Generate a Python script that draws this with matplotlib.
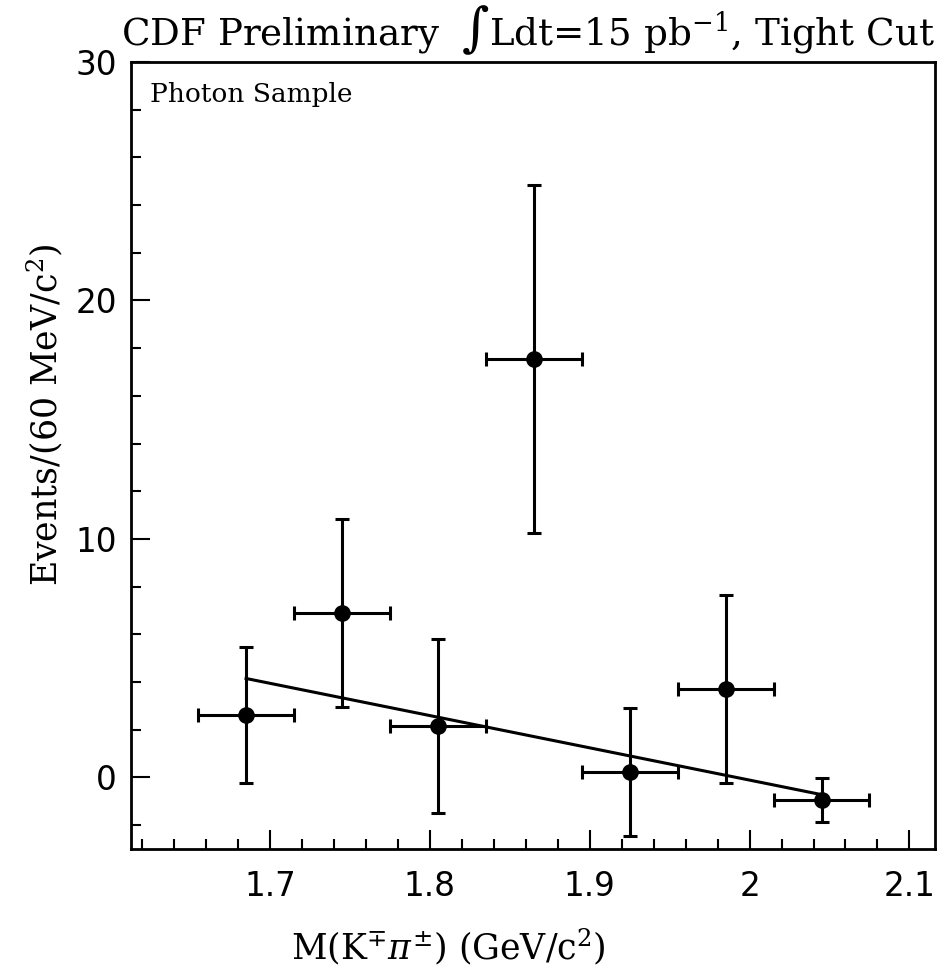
import matplotlib
matplotlib.use("Agg")
import matplotlib.pyplot as plt
from matplotlib.ticker import MultipleLocator

# Data
mass = [1.685, 1.745, 1.805, 1.865, 1.925, 1.985, 2.045]
events = [2.62, 6.90, 2.16, 17.55, 0.23, 3.71, -0.94]
err_y = [2.85, 3.94, 3.63, 7.30, 2.70, 3.95, 0.92]
bin_half = [0.03, 0.03, 0.03, 0.03, 0.03, 0.03, 0.03]
fit_x = [1.685, 2.045]
fit_y = [4.15, -0.72]

x_ticks = [1.7, 1.8, 1.9, 2.0, 2.1]
x_tick_labels = ["1.7", "1.8", "1.9", "2", "2.1"]
y_ticks = [0, 10, 20, 30]
y_tick_labels = ["0", "10", "20", "30"]

plt.rcParams['mathtext.fontset'] = 'dejavuserif'

W, H = 946, 974
fig = plt.figure(figsize=(W / 100, H / 100), dpi=100)
ax = fig.add_axes([131 / W, 1 - 849 / H, (935 - 131) / W, (849 - 62) / H])

ax.errorbar(mass, events, yerr=err_y, xerr=bin_half, fmt='o', color='black',
            markersize=11, elinewidth=2.2, capsize=5, capthick=2.2, zorder=3)
ax.plot(fit_x, fit_y, color='black', linewidth=2.2, zorder=2)

ax.set_xlim(1.613, 2.116)
ax.set_ylim(-3, 30)
ax.set_xticks(x_ticks)
ax.set_xticklabels(x_tick_labels)
ax.set_yticks(y_ticks)
ax.set_yticklabels(y_tick_labels)
ax.xaxis.set_minor_locator(MultipleLocator(0.02))
ax.yaxis.set_minor_locator(MultipleLocator(2))
ax.tick_params(which='both', direction='in', top=False, right=False, width=1.5)
ax.tick_params(which='major', length=14, labelsize=23.5)
ax.tick_params(which='minor', length=7)
ax.tick_params(axis='x', which='major', pad=15)
ax.tick_params(axis='y', which='major', pad=10)
for lab in ax.get_xticklabels() + ax.get_yticklabels():
    lab.set_family('DejaVu Sans')
for s in ax.spines.values():
    s.set_linewidth(2)

serif = 'DejaVu Serif'
ax.text(0.024, 0.975, "Photon Sample", transform=ax.transAxes, ha='left', va='top',
        fontsize=19, family=serif)

fig.text(935 / W, 1 - 30 / H, r"CDF Preliminary  $\int$Ldt=15 pb$^{-1}$, Tight Cut",
         ha='right', va='center', fontsize=26.8, family=serif)
fig.text(448 / W, 1 - 947 / H, r"M(K$^{\mp}\pi^{\pm}$) (GeV/c$^{2}$)",
         ha='center', va='center', fontsize=25, family=serif)
fig.text(45 / W, 1 - 415 / H, r"Events/(60 MeV/c$^{2}$)", rotation=90,
         ha='center', va='center', fontsize=25, family=serif)

fig.savefig("out.png", dpi=100)
